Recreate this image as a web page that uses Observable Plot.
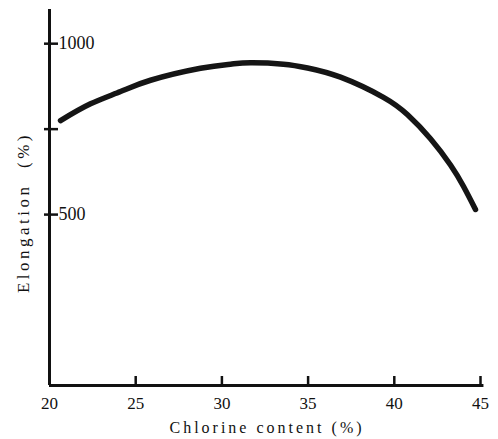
<!DOCTYPE html>
<html>
<head>
<meta charset="utf-8">
<script src="https://cdn.jsdelivr.net/npm/d3@7"></script>
<script src="https://cdn.jsdelivr.net/npm/@observablehq/plot@0.6"></script>
<style>
  html, body { margin: 0; padding: 0; background: #fff; }
  #chart svg { display: block; }
</style>
</head>
<body>
<div id="chart"></div>
<script>
// Chlorine content (%) vs elongation (%)
const chlorine   = [20.64, 22.38, 24.12, 25.86, 28.76, 30.5, 31.66, 33.57, 34.97, 36.88, 39.37, 40.77, 42.1, 43.26, 44.01, 44.71];
const elongation = [775,   824,   860,   893,   928,   940,  944,   940,   929,   902,   843,   792,   722,  645,   583,   515];
const xTicks = [25, 30, 35, 40, 45];
const xTickLabels = [20, 25, 30, 35, 40, 45];
const yTickMarks = [500, 750, 1000];
const yTickLabels = [500, 1000];
const xTitle = "Chlorine content (%)";
const yTitle = "Elongation  (%)";

const data = chlorine.map((c, i) => ({c, e: elongation[i]}));

const chart = Plot.plot({
  width: 498,
  height: 439,
  marginLeft: 49,
  marginRight: 18,
  marginTop: 9,
  marginBottom: 54,
  x: {domain: [20, 45]},
  y: {domain: [0, 1100]},
  style: {fontFamily: "'Liberation Serif', 'DejaVu Serif', serif", color: "#111", background: "#fff"},
  marks: [
    Plot.ruleX([20], {y1: 0, y2: 1100, stroke: "#111", strokeWidth: 3}),
    Plot.ruleY([0], {x1: 20, x2: 45.2, stroke: "#111", strokeWidth: 3}),
    Plot.axisX({anchor: "bottom", ticks: xTicks, tickSize: 9, dy: -9, strokeWidth: 2.5, tickFormat: () => "", label: null}),
    Plot.axisX({anchor: "bottom", ticks: xTickLabels, tickSize: 0, tickPadding: 11, fontSize: 17, tickFormat: d => String(d), label: null}),
    Plot.axisY({anchor: "left", ticks: yTickMarks, tickSize: 14, dx: 9, strokeWidth: 2.5, tickFormat: () => "", label: null}),
    Plot.axisY({anchor: "left", ticks: yTickLabels, tickSize: 0, tickPadding: 0, dx: 9, textAnchor: "start", fontSize: 18, tickFormat: d => String(d), label: null}),
    Plot.text([xTitle], {frameAnchor: "bottom", lineAnchor: "top", dy: 36, dx: 2, fontSize: 16, fill: "#111", text: d => d, className: "spaced"}),
    Plot.text([yTitle], {frameAnchor: "left", textAnchor: "middle", rotate: -90, dx: -26, dy: 15, fontSize: 17, fill: "#111", text: d => d, className: "spaced2"}),
    Plot.line(data, {x: "c", y: "e", curve: "natural", stroke: "#151515", strokeWidth: 5.5, strokeLinecap: "round"})
  ]
});
document.getElementById("chart").appendChild(chart);
chart.querySelectorAll(".spaced text").forEach(t => t.setAttribute("letter-spacing", "3"));
chart.querySelectorAll(".spaced2 text").forEach(t => t.setAttribute("letter-spacing", "3.5"));
</script>
</body>
</html>
